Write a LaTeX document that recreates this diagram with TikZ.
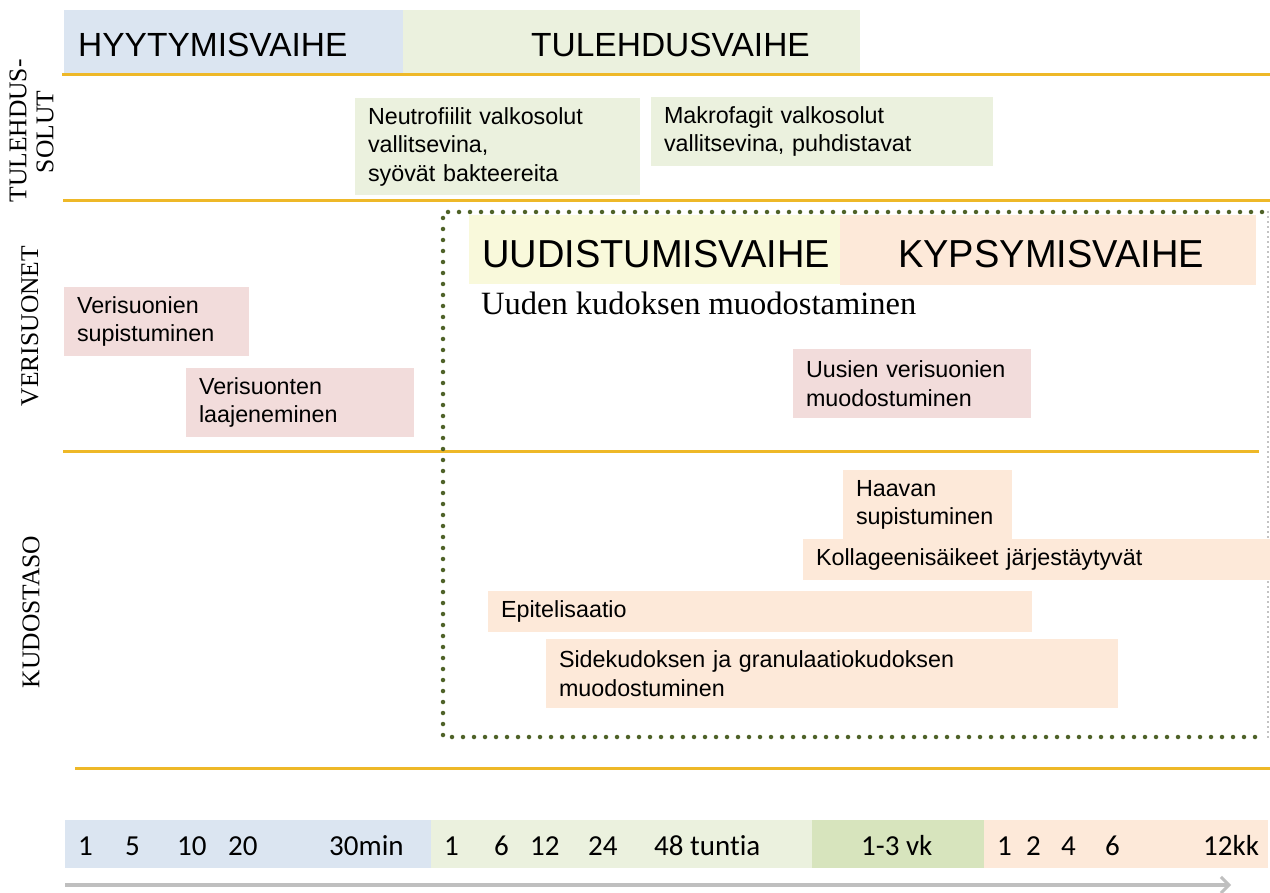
\documentclass[tikz,border=0pt]{standalone}
\usepackage{fontspec}
\setmainfont{Liberation Sans}
\newfontfamily\serifA{Liberation Serif}
\newfontfamily\calib[Ligatures=NoCommon]{Carlito}
\usetikzlibrary{arrows.meta}
\definecolor{hblue}{HTML}{DBE5F1}
\definecolor{hgreen}{HTML}{EBF1DE}
\definecolor{dgreen}{HTML}{D7E4BD}
\definecolor{peach}{HTML}{FDE9D9}
\definecolor{pinkC}{HTML}{F2DCDB}
\definecolor{yell}{HTML}{F9F9DB}
\definecolor{gold}{HTML}{EEB828}
\definecolor{olive}{HTML}{4F6228}
\definecolor{axgrey}{HTML}{BFBFBF}
\tikzset{
  bar/.style={anchor=north west, inner sep=0pt, outer sep=0pt},
  bx/.style={anchor=north west, inner xsep=13pt, inner ysep=0pt, outer sep=0pt, align=left,
    font=\fontsize{23.3}{28.5}\selectfont},
  goldline/.style={draw=gold, line width=3pt},
  side/.style={rotate=90, inner sep=0pt, font=\serifA\fontsize{25.5}{30}\selectfont},
  ax/.style={anchor=base west, inner sep=0pt, font=\calib\fontsize{29}{34}\selectfont},
  hdr/.style={anchor=base west, inner sep=0pt}
}
\begin{document}
\begin{tikzpicture}[x=1pt,y=-1pt]
\useasboundingbox (0,0) rectangle (1270,893);
\fill[white] (0,0) rectangle (1270,893);

% header bars
\node[bar, fill=hblue, minimum width=339, minimum height=63] (hyyB) at (64,10) {};
\node[bar, fill=hgreen, minimum width=457, minimum height=63] (tulB) at (403,10) {};
\node[hdr, font=\fontsize{33.5}{40}\selectfont] (hyyT) at (78,57) {HYYTYMISVAIHE};
\node[hdr, font=\fontsize{33.5}{40}\selectfont] (tulT) at (531,57) {TULEHDUSVAIHE};

% gold lines
\draw[goldline] (62,75) -- (1270,75);
\draw[goldline] (63,201) -- (1270,201);
\draw[goldline] (63,451) -- (1259,451);
\draw[goldline] (75,768) -- (1270,768);

% side labels
\node[side] (tul1) at (18,131) {TULEHDUS-};
\node[side] (tul2) at (45,132) {SOLUT};
\node[side] (veri) at (30,326) {VERISUONET};
\node[side] (kudo) at (31,612) {KUDOSTASO};

% inflammatory cells
\node[bx, fill=hgreen, text width=259, minimum height=97] (neu) at (355,98)
  {Neutrofiilit valkosolut\\vallitsevina,\\syövät bakteereita};
\node[bx, fill=hgreen, text width=316, minimum height=69] (mak) at (651,97)
  {Makrofagit valkosolut\\vallitsevina, puhdistavat};

% dotted box
\coordinate (dA) at (443,212);
\coordinate (dB) at (1262,212);
\coordinate (dC) at (1262,737);
\coordinate (dD) at (443,737);
\coordinate (gA) at (1268,212);
\coordinate (gB) at (1268,737);
\draw[axgrey!70!black, line width=1.6pt, line cap=round, dash pattern=on 0pt off 5pt] (gA) -- (gB);
\draw[olive, line width=4.5pt, line cap=round, dash pattern=on 0pt off 11pt] (dB) -- (dA) -- (dD) -- (dC);

% phases
\node[bar, fill=peach, minimum width=416, minimum height=70] (kypB) at (840,215) {};
\node[bar, fill=yell, minimum width=371, minimum height=69] (uudB) at (469,215) {};
\node[hdr, font=\fontsize{39}{46}\selectfont] (uudT) at (482,268) {\scalebox{0.975}[1]{UUDISTUMISVAIHE}};
\node[hdr, font=\fontsize{39}{46}\selectfont] (kypT) at (898,268) {\scalebox{0.975}[1]{KYPSYMISVAIHE}};
\node[hdr, font=\serifA\fontsize{32.5}{38}\selectfont] (uuden) at (481,315) {Uuden kudoksen muodostaminen};

% vessels
\node[bx, fill=pinkC, text width=159, minimum height=69] (vsup) at (64,287)
  {Verisuonien\\supistuminen};
\node[bx, fill=pinkC, text width=202, minimum height=69] (vlaa) at (186,368)
  {Verisuonten\\laajeneminen};
\node[bx, fill=pinkC, text width=212, minimum height=69] (vuus) at (793,349)
  {Uusien verisuonien\\muodostuminen};

% tissue level
\node[bx, fill=peach, text width=143, minimum height=70] (haav) at (843,470)
  {Haavan\\supistuminen};
\node[bx, fill=peach, text width=441, minimum height=41] (koll) at (803,539)
  {Kollageenisäikeet järjestäytyvät};
\node[bx, fill=peach, text width=518, minimum height=41] (epit) at (488,591)
  {Epitelisaatio};
\node[bx, fill=peach, text width=546, minimum height=69] (side) at (546,639)
  {Sidekudoksen ja granulaatiokudoksen\\muodostuminen};

% time axis
\node[bar, fill=hblue, minimum width=366, minimum height=48] (axA) at (65,820) {};
\node[bar, fill=hgreen, minimum width=381, minimum height=48] (axB) at (431,820) {};
\node[bar, fill=dgreen, minimum width=172, minimum height=48] (axC) at (812,820) {};
\node[bar, fill=peach, minimum width=284, minimum height=48] (axD) at (984,820) {};
\node[ax] (n1) at (78,855) {1};
\node[ax] (n2) at (125,855) {5};
\node[ax] (n3) at (177,855) {10};
\node[ax] (n4) at (228,855) {20};
\node[ax] (n5) at (329,855) {30min};
\node[ax] (n6) at (444,855) {1};
\node[ax] (n7) at (494,855) {6};
\node[ax] (n8) at (530,855) {12};
\node[ax] (n9) at (588,855) {24};
\node[ax] (n10) at (654,855) {48 tuntia};
\node[ax] (n11) at (861,855) {1-3 vk};
\node[ax] (n12) at (997,855) {1};
\node[ax] (n13) at (1026,855) {2};
\node[ax] (n14) at (1061,855) {4};
\node[ax] (n15) at (1105,855) {6};
\node[ax] (n16) at (1203,855) {12kk};

\coordinate (arS) at (65,885);
\coordinate (arE) at (1231,885);
\draw[axgrey, line width=4pt, -{Straight Barb[length=8pt,width=16pt,line width=3pt]}] (arS) -- (arE);
\end{tikzpicture}
\end{document}
